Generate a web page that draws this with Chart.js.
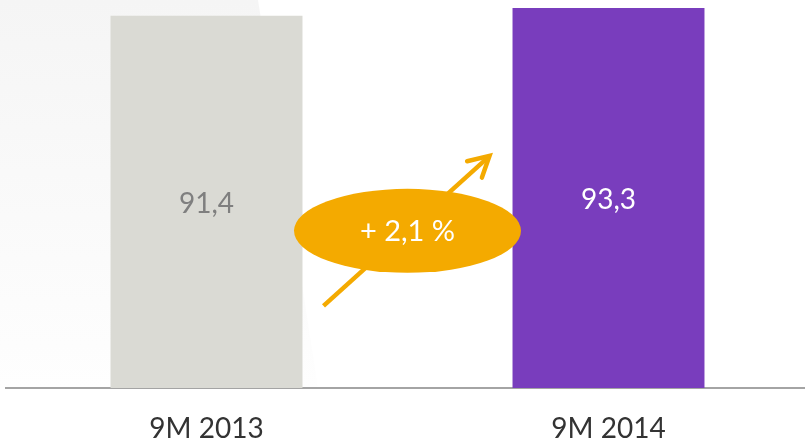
<!DOCTYPE html>
<html>
<head>
<meta charset="utf-8">
<script src="https://cdn.jsdelivr.net/npm/chart.js@4.4.0/dist/chart.umd.min.js"></script>
<style>
  html, body { margin: 0; padding: 0; background: #ffffff; }
  #wrap { width: 805px; height: 441px; position: relative; }
</style>
</head>
<body>
<div id="wrap"><canvas id="c" width="805" height="441"></canvas></div>
<script>
const categories = ['9M 2013', '9M 2014'];
const values = [91.4, 93.3];
const valueLabels = ['91,4', '93,3'];
const changeLabel = '+ 2,1 %';
const barColors = ['#dadad4', '#793dbd'];
const valueLabelColors = ['#7f7f7f', '#ffffff'];
const accent = '#f4aa00';

const FONT = 'Lato, "Noto Sans", sans-serif';

const bgPlugin = {
  id: 'bg',
  afterLayout(chart) {
    // category band extends slightly beyond the right canvas edge
    const s = chart.scales.x;
    s.right = s.left + 804;
    s.width = 804;
    s.configure();
  },
  beforeDraw(chart) {
    const ctx = chart.ctx;
    const a = chart.chartArea;
    ctx.save();
    const g = ctx.createLinearGradient(0, 0, 0, a.bottom);
    g.addColorStop(0, '#f5f5f5');
    g.addColorStop(1, '#fefefe');
    ctx.fillStyle = g;
    ctx.beginPath();
    ctx.moveTo(0, 0);
    ctx.lineTo(258, 0);
    ctx.lineTo(318, a.bottom);
    ctx.lineTo(0, a.bottom);
    ctx.closePath();
    ctx.fill();
    ctx.restore();
  }
};

const overlayPlugin = {
  id: 'overlay',
  afterDatasetsDraw(chart) {
    const ctx = chart.ctx;
    const meta = chart.getDatasetMeta(0);
    ctx.save();
    ctx.font = '28px ' + FONT;
    ctx.textAlign = 'center';
    ctx.textBaseline = 'middle';
    meta.data.forEach((bar, i) => {
      const p = bar.getProps(['x', 'y', 'base'], true);
      ctx.fillStyle = valueLabelColors[i];
      ctx.fillText(valueLabels[i], p.x, (p.y + p.base) / 2 + 2);
    });

    // change badge between the bars
    const b0 = meta.data[0].getProps(['x', 'width'], true);
    const b1 = meta.data[1].getProps(['x', 'width'], true);
    const cx = ((b0.x + b0.width / 2) + (b1.x - b1.width / 2)) / 2;
    const a = chart.chartArea;
    const cy = a.top + (a.bottom - a.top) * 0.595;

    // arrow
    ctx.strokeStyle = accent;
    ctx.lineWidth = 4.5;
    ctx.lineCap = 'butt';
    const x1 = cx - 84, y1 = cy + 75, x2 = cx + 82, y2 = cy - 75;
    ctx.beginPath();
    ctx.moveTo(x1, y1);
    ctx.lineTo(x2 - 2, y2 + 2);
    ctx.stroke();
    const ang = Math.atan2(y1 - y2, x1 - x2);
    const L = 23, spread = 0.5;
    ctx.lineCap = 'round';
    ctx.lineJoin = 'miter';
    ctx.beginPath();
    ctx.moveTo(x2 + L * Math.cos(ang + spread), y2 + L * Math.sin(ang + spread));
    ctx.lineTo(x2, y2);
    ctx.lineTo(x2 + L * Math.cos(ang - spread), y2 + L * Math.sin(ang - spread));
    ctx.stroke();

    // ellipse
    ctx.fillStyle = accent;
    ctx.beginPath();
    ctx.ellipse(cx, cy, 113.5, 42, 0, 0, Math.PI * 2);
    ctx.fill();
    ctx.fillStyle = '#ffffff';
    ctx.font = '29px ' + FONT;
    ctx.fillText(changeLabel, cx, cy + 1);
    ctx.restore();
  }
};

new Chart(document.getElementById('c'), {
  type: 'bar',
  data: {
    labels: categories,
    datasets: [{
      data: values,
      backgroundColor: barColors,
      borderWidth: 0,
      categoryPercentage: 1,
      barPercentage: 0.4775
    }]
  },
  options: {
    responsive: false,
    animation: false,
    events: [],
    layout: { padding: { left: 5.5, right: 0, top: 0, bottom: 0 } },
    plugins: { legend: { display: false }, tooltip: { enabled: false } },
    scales: {
      x: {
        grid: { display: false, drawTicks: false },
        border: { display: true, color: '#a4a4a4', width: 2 },
        ticks: {
          color: '#333333',
          font: { family: FONT, size: 28 },
          padding: 24
        },
        afterFit(scale) { scale.height = 53; }
      },
      y: {
        display: false,
        min: 0,
        max: 95.26
      }
    }
  },
  plugins: [bgPlugin, overlayPlugin]
});
</script>
</body>
</html>
